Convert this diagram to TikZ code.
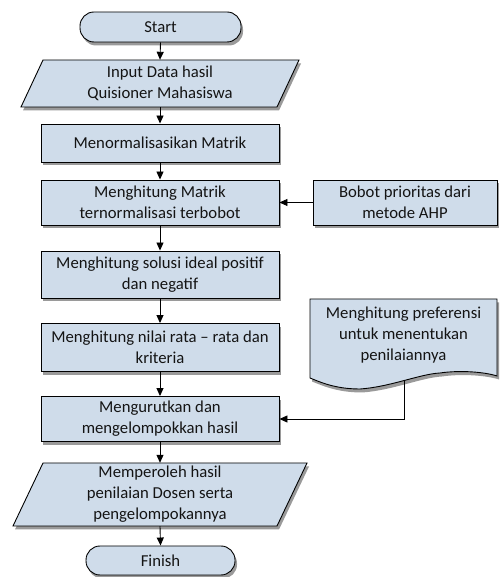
\documentclass[tikz,border=0pt]{standalone}
\usepackage{fontspec}
\setmainfont{Carlito}
\usetikzlibrary{arrows.meta,shadows,calc}
\definecolor{boxfill}{HTML}{CFDCEA}
\definecolor{shad}{HTML}{9A9A9A}
\definecolor{txt}{HTML}{141414}
\begin{document}
\begin{tikzpicture}[x=1pt,y=1pt,
  txtstyle/.style={font=\fontsize{16.7}{21}\selectfont, text=txt, align=center, inner sep=0pt},
  shp/.style={draw=black, line width=0.9pt, fill=boxfill,
     drop shadow={shadow xshift=2pt, shadow yshift=-3.5pt, fill=shad, opacity=1}},
  procbox/.style={shp, txtstyle, rectangle, minimum width=238pt},
  termbox/.style={shp, txtstyle, rectangle, rounded corners=14pt},
  holder/.style={txtstyle, rectangle},
  arr/.style={line width=0.9pt, -{Triangle[length=8pt,width=7pt]}}
]
\useasboundingbox (0,0) rectangle (499,577);

% Start
\node[termbox, minimum width=161pt, minimum height=30pt] (start) at (160.5,550) {Start};

% Input parallelogram
\draw[shp] (43,517) -- (299,517) -- (277,470) -- (21,470) -- cycle;
\node[holder, minimum width=256pt, minimum height=47pt] (input) at (160,493.5) {Input Data hasil\\Quisioner Mahasiswa};

% process boxes
\node[procbox, minimum height=38pt] (norm) at (160,434) {Menormalisasikan Matrik};
\node[procbox, minimum height=45pt] (bobotm) at (160,374.5) {Menghitung Matrik\\ternormalisasi terbobot};
\node[procbox, minimum width=184pt, minimum height=45pt] (ahp) at (405,374.5) {Bobot prioritas dari\\metode AHP};
\node[procbox, minimum height=47pt] (solusi) at (160,302.5) {Menghitung solusi ideal positif\\dan negatif};
\node[procbox, minimum height=48pt] (rata) at (160,229.5) {Menghitung nilai rata -- rata dan\\kriteria};
\node[procbox, minimum height=45pt] (urut) at (160,158) {Mengurutkan dan\\mengelompokkan hasil};

% Document shape
\draw[shp] (310,278) -- (497,278) -- (497,201)
  .. controls (485,205) and (460,207) .. (440,204)
  .. controls (420,203) and (390,190) .. (360,188)
  .. controls (335,188) and (320,195) .. (310,199) -- cycle;
\node[holder, minimum width=187pt] (pref) at (403.5,242) {Menghitung preferensi\\untuk menentukan\\penilaiannya};
\coordinate (prefout) at (404,197);

% Output parallelogram
\draw[shp] (43,114) -- (307,114) -- (277,51) -- (13,51) -- cycle;
\node[holder, minimum width=264pt, minimum height=63pt] (output) at (160,82.5) {Memperoleh hasil\\penilaian Dosen serta\\pengelompokannya};

% Finish
\node[termbox, minimum width=149pt, minimum height=29pt] (finish) at (160.5,16.5) {Finish};

% connectors
\draw[arr] (start.south) -- (input.north);
\draw[arr] (input.south) -- (norm.north);
\draw[arr] (norm.south) -- (bobotm.north);
\draw[arr] (bobotm.south) -- (solusi.north);
\draw[arr] (solusi.south) -- (rata.north);
\draw[arr] (rata.south) -- (urut.north);
\draw[arr] (urut.south) -- (output.north);
\draw[arr] (output.south) -- (finish.north);
\draw[arr] (ahp.west) -- (bobotm.east);
\draw[arr] (prefout) |- (urut.east);
\end{tikzpicture}
\end{document}
